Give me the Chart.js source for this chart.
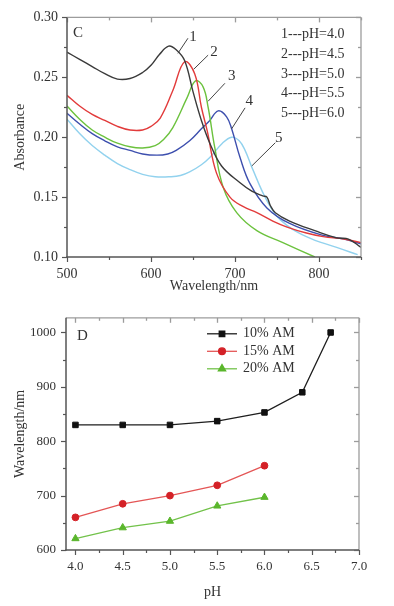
<!DOCTYPE html>
<html><head><meta charset="utf-8">
<script src="https://cdn.jsdelivr.net/npm/chart.js@4.4.1/dist/chart.umd.min.js"></script>
<style>
html,body{margin:0;padding:0;background:#fff;width:394px;height:606px;overflow:hidden}
#wc{position:absolute;left:0;top:0;width:394px;height:300px}
#wd{position:absolute;left:0;top:300px;width:394px;height:306px}
</style></head><body>
<div id="wc"><canvas id="c1"></canvas></div>
<div id="wd"><canvas id="c2"></canvas></div>
<script>
// ---------- Panel C data ----------
const seriesLabelsC = ['1---pH=4.0','2---pH=4.5','3---pH=5.0','4---pH=5.5','5---pH=6.0'];
const wl_pH40 = [500,515,530,545,560,575,590,600,610,621,630,640,650,660,670,684,706,720,733,738,742,748,765,795,821,835,850];
const abs_pH40 = [0.271,0.265,0.259,0.253,0.2485,0.249,0.254,0.260,0.269,0.276,0.273,0.264,0.238,0.214,0.195,0.176,0.162,0.155,0.151,0.150,0.143,0.137,0.130,0.122,0.116,0.115,0.108];
const wl_pH45 = [500,515,530,545,560,575,590,600,611,626,640,652,660,667,678,694,710,726,745,762,785,805,830,850];
const abs_pH45 = [0.235,0.226,0.219,0.214,0.209,0.206,0.206,0.209,0.216,0.239,0.263,0.253,0.225,0.205,0.170,0.150,0.142,0.137,0.130,0.125,0.120,0.117,0.115,0.112];
const wl_pH50 = [500,515,530,545,560,575,590,605,615,626,643,653,662,668,676,686,702,726,757,795];
const abs_pH50 = [0.226,0.215,0.206,0.200,0.195,0.192,0.191,0.193,0.198,0.208,0.233,0.247,0.242,0.225,0.191,0.158,0.137,0.122,0.112,0.100];
const wl_pH55 = [500,515,530,545,560,575,590,607,620,630,646,660,670,680,690,696,706,718,738,765,805,830,850];
const abs_pH55 = [0.220,0.211,0.203,0.197,0.192,0.189,0.186,0.185,0.186,0.189,0.197,0.207,0.214,0.222,0.217,0.207,0.183,0.161,0.141,0.128,0.118,0.115,0.111];
const wl_pH60 = [500,515,530,545,560,575,590,605,623,635,646,660,670,685,696,705,712,720,738,754,785,821,846];
const abs_pH60 = [0.215,0.203,0.193,0.185,0.178,0.173,0.169,0.167,0.167,0.168,0.171,0.177,0.183,0.195,0.200,0.197,0.189,0.175,0.147,0.131,0.117,0.108,0.102];
const xTicksC = [500,600,700,800];
const yTicksC = [0.10,0.15,0.20,0.25,0.30];
// curve number labels: [text, leaderStartX, leaderStartY, leaderEndX, leaderEndY, labelX, labelY] in data units
const curveTags = [
  ['1',632,0.270,644,0.2826,650,0.284],
  ['2',651,0.2568,668,0.2685,675,0.271],
  ['3',668,0.230,688,0.245,696,0.251],
  ['4',696,0.207,712,0.2245,717,0.230],
  ['5',720,0.176,748,0.1954,752,0.1996]
];

// ---------- Panel D data ----------
const pH10 = [4.0,4.5,5.0,5.5,6.0,6.4,6.7];
const wl10 = [830,830,830,837,853,890,1000];
const pH15 = [4.0,4.5,5.0,5.5,6.0];
const wl15 = [660,685,700,719,755];
const pH20 = [4.0,4.5,5.0,5.5,6.0];
const wl20 = [621,641,653,681,697];
const seriesLabelsD = ['10% AM','15% AM','20% AM'];
const xTicksD = [4.0,4.5,5.0,5.5,6.0,6.5,7.0];
const yTicksD = [600,700,800,900,1000];

const SERIF = "'Liberation Serif','Times New Roman',serif";
const TXT = '#333';

function pts(xs, ys){ return xs.map((v,i)=>({x:v,y:ys[i]})); }

function line(ctx,x1,y1,x2,y2){ctx.beginPath();ctx.moveTo(x1,y1);ctx.lineTo(x2,y2);ctx.stroke();}

function frame(chart, xMaj, xMin, yMaj, yMin){
  const {ctx, chartArea:{left,right,top,bottom}, scales:{x,y}} = chart;
  ctx.save();
  ctx.lineCap='butt';
  ctx.strokeStyle='#9c9c9c'; ctx.lineWidth=1.3;
  line(ctx,left,top,right,top); line(ctx,right,top,right,bottom);
  xMaj.forEach(v=>{const p=Math.round(x.getPixelForValue(v))+0.5; line(ctx,p,top,p,top+5);});
  xMin.forEach(v=>{const p=Math.round(x.getPixelForValue(v))+0.5; line(ctx,p,top,p,top+3);});
  yMaj.forEach(v=>{const p=Math.round(y.getPixelForValue(v))+0.5; line(ctx,right-5,p,right,p);});
  yMin.forEach(v=>{const p=Math.round(y.getPixelForValue(v))+0.5; line(ctx,right-3,p,right,p);});
  ctx.strokeStyle='#555'; ctx.lineWidth=1.5;
  line(ctx,left,top,left,bottom+0.75); line(ctx,left-0.75,bottom,right,bottom);
  ctx.lineWidth=1.2;
  xMaj.forEach(v=>{const p=Math.round(x.getPixelForValue(v))+0.5; line(ctx,p,bottom,p,bottom+5);});
  xMin.forEach(v=>{const p=Math.round(x.getPixelForValue(v))+0.5; line(ctx,p,bottom,p,bottom+3);});
  yMaj.forEach(v=>{const p=Math.round(y.getPixelForValue(v))+0.5; line(ctx,left-5,p,left,p);});
  yMin.forEach(v=>{const p=Math.round(y.getPixelForValue(v))+0.5; line(ctx,left-3,p,left,p);});
  ctx.restore();
}

// ---------- Chart C ----------
const colorsC = ['#3a3a3a','#e23b3b','#6cc23e','#3d4fae','#92d2ee'];
const dataC = [pts(wl_pH40,abs_pH40),pts(wl_pH45,abs_pH45),pts(wl_pH50,abs_pH50),pts(wl_pH55,abs_pH55),pts(wl_pH60,abs_pH60)];

const plugC = {
  id:'decorC',
  afterDatasetsDraw(chart){
    const {ctx, chartArea:{left,right,top,bottom}, scales:{x,y}} = chart;
    frame(chart, [500,600,700,800], [550,650,750,850], yTicksC, [0.125,0.175,0.225,0.275]);
    ctx.save();
    ctx.strokeStyle='#444'; ctx.lineWidth=1;
    ctx.fillStyle=TXT; ctx.font='15px '+SERIF; ctx.textAlign='center'; ctx.textBaseline='middle';
    curveTags.forEach(t=>{
      line(ctx,x.getPixelForValue(t[1]),y.getPixelForValue(t[2]),x.getPixelForValue(t[3]),y.getPixelForValue(t[4]));
      ctx.fillText(t[0],x.getPixelForValue(t[5]),y.getPixelForValue(t[6]));
    });
    ctx.textAlign='left'; ctx.font='15px '+SERIF;
    ctx.fillText('C', left+6, top+16);
    ctx.font='14px '+SERIF;
    seriesLabelsC.forEach((s,i)=>{ ctx.fillText(s, left+214, top+17+i*19.8); });
    ctx.restore();
  }
};

new Chart(document.getElementById('c1'), {
  type:'line',
  data:{ datasets: dataC.map((d,i)=>({label:seriesLabelsC[i], data:d, borderColor:colorsC[i], borderWidth:1.4, pointRadius:0, fill:false, tension:0.4})) },
  options:{
    responsive:true, maintainAspectRatio:false, animation:false, devicePixelRatio:1,
    layout:{padding:{top:16,right:33,left:0,bottom:0}},
    plugins:{legend:{display:false}, tooltip:{enabled:false}},
    scales:{
      x:{type:'linear', min:500, max:850,
        afterBuildTicks:s=>{s.ticks=xTicksC.map(v=>({value:v}));},
        afterFit:s=>{s.height=43;},
        grid:{display:false, drawTicks:false, tickLength:0}, border:{display:false},
        ticks:{padding:9, color:TXT, font:{family:SERIF,size:14}, maxRotation:0, callback:v=>String(v)},
        title:{display:true, text:'Wavelength/nm', color:TXT, font:{family:SERIF,size:14}, padding:{top:0,bottom:5}}
      },
      y:{type:'linear', min:0.10, max:0.30,
        afterBuildTicks:s=>{s.ticks=yTicksC.map(v=>({value:v}));},
        afterFit:s=>{s.width=67;},
        grid:{display:false, drawTicks:false, tickLength:0}, border:{display:false},
        ticks:{padding:9, color:TXT, font:{family:SERIF,size:14}, callback:v=>Number(v).toFixed(2)},
        title:{display:true, text:'Absorbance', color:TXT, font:{family:SERIF,size:14}, padding:{top:12,bottom:0}}
      }
    }
  },
  plugins:[plugC]
});

// ---------- Chart D ----------
const lineColD = ['#1e1e1e','#e45656','#72c24a'];
const ptColD = ['#111111','#d42127','#5ab62c'];
const ptStyleD = ['rect','circle','triangle'];
const ptRadD = [3.9,3.4,4.2];
const dataD = [pts(pH10,wl10),pts(pH15,wl15),pts(pH20,wl20)];

const plugD = {
  id:'decorD',
  afterDatasetsDraw(chart){
    const {ctx, chartArea:{left,right,top,bottom}} = chart;
    frame(chart, xTicksD, [4.25,4.75,5.25,5.75,6.25,6.75], yTicksD, [650,750,850,950]);
    ctx.save();
    ctx.fillStyle=TXT; ctx.textBaseline='middle'; ctx.textAlign='left';
    ctx.font='15px '+SERIF;
    ctx.fillText('D', left+11, top+18);
    ctx.font='14px '+SERIF;
    seriesLabelsD.forEach((s,i)=>{
      const yy = top+16+i*17.5;
      const x0 = left+141, x1 = left+171, xm = (x0+x1)/2;
      ctx.strokeStyle=lineColD[i]; ctx.lineWidth=1.3;
      line(ctx,x0,yy,x1,yy);
      ctx.fillStyle=ptColD[i]; ctx.strokeStyle=ptColD[i];
      Chart.helpers.drawPoint(ctx,{pointStyle:ptStyleD[i], radius:ptRadD[i], borderWidth:1, rotation:0}, xm, yy);
      ctx.fillStyle=TXT;
      ctx.fillText(s, left+177, yy);
    });
    ctx.restore();
  }
};

new Chart(document.getElementById('c2'), {
  type:'line',
  data:{ datasets: dataD.map((d,i)=>({label:seriesLabelsD[i], data:d, borderColor:lineColD[i], borderWidth:1.3,
    pointStyle:ptStyleD[i], pointRadius:ptRadD[i], pointBackgroundColor:ptColD[i], pointBorderColor:ptColD[i], pointBorderWidth:1, fill:false, tension:0})) },
  options:{
    responsive:true, maintainAspectRatio:false, animation:false, devicePixelRatio:1,
    layout:{padding:{top:9,right:35,left:0,bottom:0}},
    plugins:{legend:{display:false}, tooltip:{enabled:false}},
    scales:{
      x:{type:'linear', min:3.9, max:7.0,
        afterBuildTicks:s=>{s.ticks=xTicksD.map(v=>({value:v}));},
        afterFit:s=>{s.height=56;},
        grid:{display:false, drawTicks:false, tickLength:0}, border:{display:false},
        ticks:{padding:9, color:TXT, font:{family:SERIF,size:13}, maxRotation:0, callback:v=>Number(v).toFixed(1)},
        title:{display:true, text:'pH', color:TXT, font:{family:SERIF,size:14}, padding:{top:0,bottom:5}}
      },
      y:{type:'linear', min:600, max:1027,
        afterBuildTicks:s=>{s.ticks=yTicksD.map(v=>({value:v}));},
        afterFit:s=>{s.width=66;},
        grid:{display:false, drawTicks:false, tickLength:0}, border:{display:false},
        ticks:{padding:10, color:TXT, font:{family:SERIF,size:13}, callback:v=>String(v)},
        title:{display:true, text:'Wavelength/nm', color:TXT, font:{family:SERIF,size:14}, padding:{top:12,bottom:0}}
      }
    }
  },
  plugins:[plugD]
});
</script>
</body></html>
